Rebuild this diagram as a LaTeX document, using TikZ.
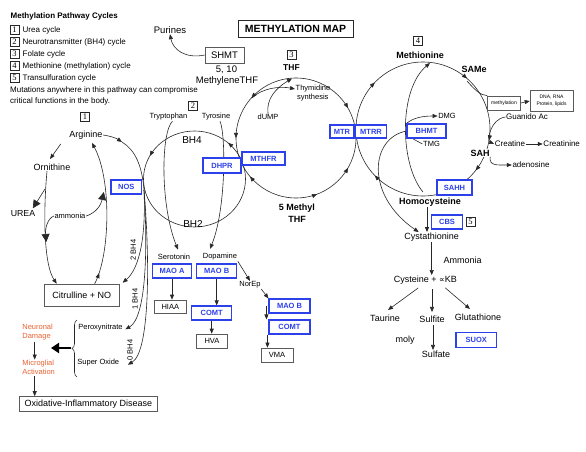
\documentclass[tikz,border=0pt]{standalone}
\usepackage{fontspec}
\setmainfont{Liberation Sans}
\newfontfamily\numfont{Liberation Serif}
\newfontfamily\symfont{DejaVu Sans}
\usetikzlibrary{arrows.meta,decorations.markings,decorations.pathreplacing,calc}
\definecolor{myblue}{RGB}{45,65,235}
\definecolor{myorange}{RGB}{232,98,48}
\definecolor{lncol}{RGB}{40,40,40}
\definecolor{boxcol}{RGB}{90,90,90}
\pgfdeclarelayer{bg}
\pgfsetlayers{bg,main}
\newcommand{\fsz}[1]{\fontsize{#1}{#1}\selectfont}
\tikzset{
  ftip/.tip={Triangle[length=5pt,width=4pt]},
  ln/.style={draw=lncol, line width=0.6pt},
  arr/.style={ln, -{Triangle[length=5pt,width=4pt]}},
  bigarr/.style={ln, -{Triangle[length=8pt,width=8pt]}},
  lbl/.style={inner sep=0.5pt, font=\fsz{7.5}},
  midlbl/.style={inner sep=0.5pt, font=\fsz{9}},
  bld/.style={inner sep=0.5pt, font=\bfseries\fsz{9}},
  bbox/.style={draw=myblue, line width=1.1pt, text=myblue, fill=white, font=\bfseries\fsz{7.5}, inner sep=0, minimum height=14pt},
  gbox/.style={draw=boxcol, line width=0.6pt, fill=white, font=\fsz{7.5}, inner sep=0, minimum height=14pt},
  nbox/.style={draw=lncol, line width=0.5pt, font=\numfont\fsz{8.5}, inner sep=0, minimum size=9pt},
}
\begin{document}
\begin{tikzpicture}[x=1pt,y=-1pt]
\useasboundingbox (0,0) rectangle (586,452);
% ---------------- legend
\node[anchor=west, inner sep=0, font=\bfseries\fsz{8}] (legt) at (10.5,16.5) {Methylation Pathway Cycles};
\foreach \i/\yy/\t in {1/30/{Urea cycle},2/42/{Neurotransmitter (BH4) cycle},3/54/{Folate cycle},4/66/{Methionine (methylation) cycle},5/78/{Transulfuration cycle}}{
  \node[nbox] (lb\i) at (14.5,\yy) {\i};
  \node[anchor=west, inner sep=0, font=\fsz{8}] (lt\i) at (22.5,\yy) {\t};
}
\node[anchor=west, inner sep=0, font=\fsz{8}] (legm) at (10,90) {Mutations anywhere in this pathway can compromise};
\node[anchor=west, inner sep=0, font=\fsz{8}] (legc) at (10,101.5) {critical functions in the body.};
\node[draw=lncol, line width=0.7pt, font=\bfseries\fsz{10.5}, minimum width=115pt, minimum height=17pt, inner sep=0] (title) at (295.5,28.5) {METHYLATION MAP};
% ---------------- folate
\node[midlbl, font=\fsz{9.5}] (purines) at (170,30) {Purines};
\node[gbox, font=\fsz{9.5}, minimum width=39pt, minimum height=16pt] (shmt) at (224.5,55) {SHMT};
\node[midlbl, font=\fsz{9.5}] (five10) at (226.5,70) {5, 10};
\node[midlbl, font=\fsz{9.5}] (methy) at (227,81) {MethyleneTHF};
\node[nbox] (n3) at (291.5,55) {3};
\node[bld, font=\bfseries\fsz{8.5}] (thf) at (291.5,68) {THF};
\node[lbl] (dump) at (268,117) {dUMP};
\node[lbl, anchor=west] (thym) at (295,89) {Thymidine};
\node[lbl, anchor=west] (synth) at (296.5,98) {synthesis};
\node[bbox, minimum width=43pt, minimum height=13pt] (mthfr) at (263.5,158.5) {MTHFR};
\node[bbox, minimum width=38pt, minimum height=15pt] (dhpr) at (222,165.5) {DHPR};
\node[bld] (meth5) at (297,208) {5 Methyl};
\node[bld] (thf5) at (297,219) {THF};
\node[bbox, minimum width=24pt, minimum height=13pt] (mtr) at (342,131.5) {MTR};
\node[bbox, minimum width=31pt, minimum height=13pt] (mtrr) at (371,131.5) {MTRR};
% ---------------- methionine
\node[nbox] (n4) at (418,41) {4};
\node[bld] (methio) at (420,55) {Methionine};
\node[bld] (same) at (474,69) {SAMe};
\node[gbox, font=\fsz{5}, minimum width=33pt, minimum height=14pt] (methyl) at (504,103) {methylation};
\node[gbox, font=\fontsize{5}{7}\selectfont, minimum width=43pt, minimum height=21pt, align=center] (dna) at (551.5,101) {DNA, RNA\\Protein, lipids};
\node[bbox, minimum width=39pt] (bhmt) at (426.5,131) {BHMT};
\node[lbl] (dmg) at (447,116) {DMG};
\node[lbl] (tmg) at (431.5,144) {TMG};
\node[lbl, font=\fsz{8}] (guan) at (527,117) {Guanido Ac};
\node[lbl, font=\fsz{8}] (creat) at (510,144) {Creatine};
\node[lbl, font=\fsz{8}] (creatn) at (561.7,144) {Creatinine};
\node[bld, fill=white] (sah) at (480,153) {SAH};
\node[lbl, font=\fsz{8}] (adeno) at (531,165) {adenosine};
\node[bbox, minimum width=35pt, minimum height=15pt] (sahh) at (454.5,187.5) {SAHH};
\node[bld] (hcy) at (430,202) {Homocysteine};
\node[bbox, minimum width=31pt] (cbs) at (447,222) {CBS};
\node[nbox] (n5) at (470.5,221.5) {5};
\node[midlbl] (cysta) at (431.7,237) {Cystathionine};
\node[midlbl] (ammon) at (462.7,260) {Ammonia};
\node[midlbl] (cyst) at (425.3,280) {Cysteine + {\symfont\fsz{8}∝}KB};
\node[midlbl] (taur) at (385,318) {Taurine};
\node[midlbl] (sulfi) at (432,319) {Sulfite};
\node[midlbl] (gluta) at (478,317) {Glutathione};
\node[midlbl] (moly) at (405,340) {moly};
\node[bbox, minimum width=40.7pt, minimum height=14.7pt] (suox) at (476.3,340) {SUOX};
\node[midlbl] (sulfa) at (436,354) {Sulfate};
% ---------------- neurotransmitter
\node[nbox] (n2) at (193,106) {2};
\node[lbl] (tryp) at (168.5,117) {Tryptophan};
\node[lbl] (tyro) at (216,117) {Tyrosine};
\node[midlbl, font=\fsz{10}] (bh4) at (192,140) {BH4};
\node[midlbl, font=\fsz{10}] (bh2) at (193,224) {BH2};
\node[lbl] (sero) at (174,257) {Serotonin};
\node[lbl] (dopa) at (220,257) {Dopamine};
\node[bbox, minimum width=39pt] (maoa) at (172,271) {MAO A};
\node[bbox, minimum width=40pt] (maob) at (216.7,271) {MAO B};
\node[gbox, minimum width=32.7pt, minimum height=13pt] (hiaa) at (170.3,306.5) {HIAA};
\node[bbox, minimum width=40pt] (comt) at (211.7,313) {COMT};
\node[gbox, minimum width=31pt] (hva) at (212,341) {HVA};
\node[lbl] (norep) at (250,285) {NorEp};
\node[bbox, minimum width=41pt] (maob2) at (289.5,306) {MAO B};
\node[bbox, minimum width=41pt] (comt2) at (289.5,327) {COMT};
\node[gbox, minimum width=31.7pt, minimum height=14.7pt] (vma) at (277,355.3) {VMA};
% ---------------- urea
\node[nbox] (n1) at (85,117) {1};
\node[midlbl] (arg) at (86,135) {Arginine};
\node[midlbl] (orn) at (52,167) {Ornithine};
\node[midlbl, font=\fsz{8.75}] (urea) at (23,214) {UREA};
\node[lbl] (ammo) at (70,216) {ammonia};
\node[bbox, minimum width=30.7pt] (nos) at (126.3,187) {NOS};
\node[gbox, font=\fsz{9}, minimum width=75.3pt, minimum height=22pt] (cit) at (81.7,295) {Citrulline + NO};
\node[lbl] (perox) at (100.5,327.3) {Peroxynitrate};
\node[lbl] (super) at (98.3,362.7) {Super Oxide};
\node[lbl, rotate=90] (bhb) at (133.3,250) {2 BH4};
\node[lbl, rotate=90] (bhc) at (135,299) {1 BH4};
\node[lbl, rotate=90] (bhd) at (130,350) {0 BH4};
\node[lbl, font=\fontsize{7.5}{9}\selectfont, text=myorange, anchor=west, align=left] (neur) at (21.7,332) {Neuronal\\Damage};
\node[lbl, font=\fontsize{7.5}{9}\selectfont, text=myorange, anchor=west, align=left] (micro) at (21.7,367.5) {Microglial\\Activation};
\node[gbox, font=\fsz{9}, minimum width=138.4pt, minimum height=15pt] (oxid) at (88.5,404) {Oxidative-Inflammatory Disease};

\begin{pgfonlayer}{bg}
% circles
\coordinate (fc) at (296,138);
\coordinate (mc) at (423,129);
\coordinate (bc) at (194.5,179);
\draw[ln, postaction={decorate}, decoration={markings,
  mark=at position 0.083 with {\arrowreversed{ftip}},
  mark=at position 0.193 with {\arrowreversed{ftip}},
  mark=at position 0.389 with {\arrow{ftip}},
  mark=at position 0.5 with {\arrowreversed{ftip}},
  mark=at position 0.617 with {\arrowreversed{ftip}},
  mark=at position 0.917 with {\arrow{ftip}}}]
  (fc) ++(0:60) arc[start angle=0, end angle=360, radius=60];
\draw[ln, postaction={decorate}, decoration={markings,
  mark=at position 0.027 with {\arrow{ftip}},
  mark=at position 0.106 with {\arrow{ftip}},
  mark=at position 0.378 with {\arrow{ftip}},
  mark=at position 0.622 with {\arrow{ftip}},
  mark=at position 0.864 with {\arrow{ftip}}}]
  (mc) ++(0:67) arc[start angle=0, end angle=360, radius=67];
\draw[ln, postaction={decorate}, decoration={markings,
  mark=at position 0.578 with {\arrowreversed{ftip}},
  mark=at position 0.867 with {\arrowreversed{ftip}}}]
  (bc) ++(0:51) arc[start angle=0, end angle=360, x radius=51, y radius=48];
% folate
\draw[arr] (shmt.west) .. controls (186,59) and (173,50) .. (purines.south);
\coordinate (ftl) at (252,98);
\draw[arr] (ftl) .. controls (262,88) and (280,86) .. (thym.west);
\coordinate (ftop) at (292,78.5);
\draw[arr] (dump.north) .. controls (266,99) and (276,88) .. (ftop);
% methionine
\coordinate (same1) at (467,81);
\draw[ln] (same1) .. controls (475,90) and (480,95) .. (methyl.north west);
\draw[arr] (methyl.east) -- (dna.west);
\coordinate (hcytop) at (423,192);
\draw[arr] (hcytop) .. controls (400,165) and (398,90) .. ($(methio.south)+(10,4)$);
\draw[arr] (bhmt.north west) .. controls (413,118) and (422,116) .. (dmg.west);
\draw[ln] ([xshift=6pt]bhmt.south west) -- (tmg.west);
\draw[arr] (bhmt.west) .. controls (370,138) and (365,195) .. ($(cysta.north)+(-13,0)$);
\draw[arr, line width=1pt] ($(hcy.south)+(-3,0)$) -- ($(cysta.north)+(-4.7,0)$);
\draw[arr] (guan.west) .. controls (490,119) and (487,141) .. (creat.west);
\draw[arr] (creat.east) -- (creatn.west);
\draw[arr] (sah.south east) .. controls (489,166) and (497,165) .. (adeno.west);
% transsulfuration
\draw[arr] (cysta.south) -- (cysta.south |- cyst.north);
\draw[arr] ($(cyst.south)+(-7,3)$) -- ($(taur.north)+(3,-4)$);
\draw[arr] ($(cyst.south)+(6.7,4)$) -- ($(sulfi.north)+(0,-3)$);
\draw[arr] ($(cyst.south)+(20,3)$) -- ($(gluta.north)+(-8,-4)$);
\coordinate (sfs) at ($(sulfi.south)+(1,2)$);
\draw[arr] (sfs) -- (sfs |- sulfa.north);
% neurotransmitter
\draw[arr] ($(tryp.south)+(4,0)$) .. controls (161,132) and (160,205) .. ($(sero.north)+(4,-4)$);
\draw[arr] ($(tyro.south)+(4,0)$) .. controls (226,135) and (226,210) .. ($(dopa.north)+(-10,-4)$);
\draw[arr] (maoa.south) -- (maoa.south |- hiaa.north);
\draw[arr] (maob.south) -- (maob.south |- comt.north);
\draw[arr] (comt.south) -- (comt.south |- hva.north);
\draw[arr] (dopa.south east) -- (norep.north);
\draw[arr] (norep.south east) -- (maob2.north west);
\draw[arr] ($(maob2.west)+(-2,0)$) -- ($(comt2.north west)+(-2,0)$);
\coordinate (c2s) at ($(comt2.south west)+(-1,0)$);
\draw[arr] (c2s) -- (c2s |- vma.north);
% urea
\draw[arr] ($(arg.south west)+(-8,4)$) -- ($(orn.north)+(-2,-4)$);
\draw[arr] ($(orn.south)+(-5,0)$) .. controls (43,215) and (44,265) .. ($(cit.north west)+(13,0)$);
\coordinate (oj) at (46.3,242);
\draw[bigarr] (ammo.west) .. controls (48,218) and (45,228) .. (oj);
\coordinate (uj) at (45,189);
\draw[bigarr] (uj) -- ($(urea.north east)+(-3,-2)$);
\draw[arr, postaction={decorate}, decoration={markings, mark=at position 0.08 with {\arrow{ftip}}}]
  ($(cit.north)+(13,0)$) .. controls (110,255) and (112,180) .. ($(arg.south)+(6,3)$);
\coordinate (aj) at (103.8,192);
\draw[bigarr] (ammo.east) .. controls (96,213) and (101,205) .. (aj);
\coordinate (argr) at (122,142);
\draw[arr] (arg.east) .. controls (110,136) and (116,138) .. (argr);
\coordinate (bsrc) at (144,190);
\draw[ln] (argr) .. controls (135,150) and (142,165) .. (bsrc);
\draw[arr] (bsrc) .. controls (146,235) and (140,268) .. ($(cit.north east)+(3,-1)$);
\draw[arr] (bsrc) .. controls (148,250) and (146,318) .. ($(perox.east)+(2,2)$);
\draw[arr] (bsrc) .. controls (150,260) and (150,352) .. ($(super.east)+(8,2)$);
\coordinate (brb) at (77,377);
\coordinate (brt) at (77,320);
\draw[ln, decorate, decoration={brace, amplitude=5pt}] (brb) -- (brt);
\coordinate (brc) at (71,348);
\coordinate (bige) at (51,348);
\draw[draw=black, line width=2.2pt, -{Triangle[length=8pt,width=10pt]}] (brc) -- (bige);
\coordinate (ns) at ($(neur.south west)+(13,1)$);
\draw[arr] (ns) -- (ns |- micro.north);
\coordinate (ms) at ($(micro.south west)+(13,1)$);
\draw[arr] (ms) -- (ms |- oxid.north);
\end{pgfonlayer}
\end{tikzpicture}
\end{document}
